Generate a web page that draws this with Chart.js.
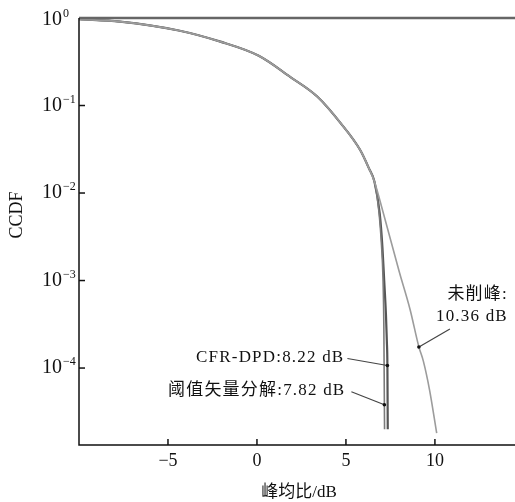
<!DOCTYPE html>
<html>
<head>
<meta charset="utf-8">
<script src="https://cdn.jsdelivr.net/npm/chart.js@4.4.0/dist/chart.umd.min.js"></script>
<style>
  html, body { margin: 0; padding: 0; background: #fff; }
</style>
</head>
<body>
<canvas id="c" width="515" height="502"></canvas>
<script>
// unclipped signal (未削峰)
const unclippedX = [-10, -7.7, -4.4, -2.1, 0.1, 1.9, 3.4, 4.7, 5.8, 6.3, 6.6, 7.1, 8.0, 8.6, 9.1, 9.35, 9.7, 10.1];
const unclippedY = [0.97, 0.91, 0.72, 0.54, 0.37, 0.21, 0.126, 0.063, 0.031, 0.019, 0.0135, 0.0059, 0.00125, 0.00047, 0.000174, 0.00012, 0.000056, 0.000018];

// CFR-DPD
const cfrX = [-10, -7.7, -4.4, -2.1, 0.1, 1.9, 3.4, 4.7, 5.8, 6.3, 6.6, 6.9, 7.05, 7.15, 7.25, 7.3, 7.33, 7.35];
const cfrY = [0.97, 0.91, 0.72, 0.54, 0.37, 0.21, 0.126, 0.063, 0.031, 0.019, 0.0135, 0.0058, 0.0024, 0.001, 0.0004, 0.0002, 0.000107, 0.00002];

// 阈值矢量分解
const thrX = [-10, -7.7, -4.4, -2.1, 0.1, 1.9, 3.4, 4.7, 5.8, 6.3, 6.6, 6.85, 7.0, 7.08, 7.13, 7.16, 7.17];
const thrY = [0.97, 0.91, 0.72, 0.54, 0.37, 0.21, 0.126, 0.063, 0.031, 0.019, 0.0135, 0.0062, 0.0025, 0.0011, 0.0003, 0.000038, 0.00002];

const xTickValues = [-5, 0, 5, 10];
const xTickLabels = ['\u22125', '0', '5', '10'];
const yTickValues = [1, 0.1, 0.01, 0.001, 0.0001];
const yTickExps = ['0', '\u22121', '\u22122', '\u22123', '\u22124'];

const annoX = [9.1, 7.33, 7.16];
const annoY = [0.000174, 0.000107, 0.000038];
const annoText = [['未削峰:', '10.36 dB'], ['CFR-DPD:8.22 dB'], ['阈值矢量分解:7.82 dB']];

const SERIF = '"Liberation Serif", "Noto Sans CJK SC", serif';

function pts(xs, ys) {
  return xs.map((x, i) => ({ x: x, y: ys[i] }));
}

const decor = {
  id: 'decor',
  afterDatasetsDraw(chart) {
    const ctx = chart.ctx;
    const a = chart.chartArea;
    const xs = chart.scales.x;
    const ys = chart.scales.y;
    ctx.save();

    // frame
    ctx.strokeStyle = '#666';
    ctx.lineWidth = 2.5;
    ctx.beginPath();
    ctx.moveTo(a.left, a.top);
    ctx.lineTo(a.right, a.top);
    ctx.stroke();
    ctx.strokeStyle = '#111';
    ctx.lineWidth = 1.5;
    ctx.beginPath();
    ctx.moveTo(a.left, a.top);
    ctx.lineTo(a.left, a.bottom);
    ctx.lineTo(a.right, a.bottom);
    ctx.stroke();

    // x ticks
    ctx.fillStyle = '#111';
    ctx.font = '18px ' + SERIF;
    ctx.textAlign = 'center';
    ctx.textBaseline = 'middle';
    xTickValues.forEach((v, i) => {
      const px = xs.getPixelForValue(v);
      ctx.beginPath();
      ctx.moveTo(px, a.bottom);
      ctx.lineTo(px, a.bottom - 6);
      ctx.stroke();
      ctx.fillText(xTickLabels[i], px, a.bottom + 16);
    });

    // y ticks
    yTickValues.forEach((v, i) => {
      const py = ys.getPixelForValue(v);
      if (i > 0) {
        ctx.beginPath();
        ctx.moveTo(a.left, py);
        ctx.lineTo(a.left + 6, py);
        ctx.stroke();
      }
      const cy = i === 0 ? py + 2 : py;
      ctx.font = '20px ' + SERIF;
      ctx.textAlign = 'right';
      ctx.fillText('10', 62, cy);
      ctx.font = '12px ' + SERIF;
      ctx.textAlign = 'left';
      ctx.fillText(yTickExps[i], 63, cy - 6);
    });

    // axis titles
    ctx.font = '17px ' + SERIF;
    ctx.textAlign = 'center';
    ctx.fillText('峰均比/dB', (a.left + a.right) / 2 + 2, 493);
    ctx.save();
    ctx.translate(17, 215);
    ctx.rotate(-Math.PI / 2);
    ctx.font = '18px ' + SERIF;
    ctx.fillText('CCDF', 0, 0);
    ctx.restore();

    // annotations
    const offs = [
      { tx: 89, ty: [-52, -30], lx: 31, ly: -18 },
      { tx: -43, ty: [-8], lx: -40, ly: -7 },
      { tx: -39, ty: [-14], lx: -33, ly: -13 }
    ];
    ctx.font = '17px ' + SERIF;
    ctx.letterSpacing = '1.2px';
    ctx.textAlign = 'right';
    annoX.forEach((v, i) => {
      const px = xs.getPixelForValue(v);
      const py = ys.getPixelForValue(annoY[i]);
      const o = offs[i];
      ctx.strokeStyle = '#444';
      ctx.lineWidth = 1.2;
      ctx.beginPath();
      ctx.moveTo(px + o.lx, py + o.ly);
      ctx.lineTo(px, py);
      ctx.stroke();
      ctx.fillStyle = '#111';
      ctx.beginPath();
      ctx.arc(px, py, 1.8, 0, Math.PI * 2);
      ctx.fill();
      annoText[i].forEach((t, j) => {
        ctx.fillText(t, px + o.tx, py + o.ty[j]);
      });
    });
    ctx.restore();
  }
};

new Chart(document.getElementById('c'), {
  type: 'scatter',
  data: {
    datasets: [
      {
        label: '未削峰',
        data: pts(unclippedX, unclippedY),
        showLine: true,
        borderColor: '#9c9c9c',
        borderWidth: 1.6,
        pointRadius: 0,
        cubicInterpolationMode: 'monotone'
      },
      {
        label: '阈值矢量分解',
        data: pts(thrX, thrY),
        showLine: true,
        borderColor: '#7a7a7a',
        borderWidth: 1.6,
        pointRadius: 0,
        cubicInterpolationMode: 'monotone'
      },
      {
        label: 'CFR-DPD',
        data: pts(cfrX, cfrY),
        showLine: true,
        borderColor: '#555',
        borderWidth: 2.2,
        pointRadius: 0,
        cubicInterpolationMode: 'monotone'
      }
    ]
  },
  options: {
    responsive: false,
    animation: false,
    layout: { padding: { left: 79, top: 18, right: 0, bottom: 57 } },
    plugins: { legend: { display: false }, tooltip: { enabled: false } },
    scales: {
      x: { type: 'linear', min: -10, max: 14.5, display: false },
      y: { type: 'logarithmic', min: 0.0000132, max: 1, display: false }
    }
  },
  plugins: [decor]
});
</script>
</body>
</html>
